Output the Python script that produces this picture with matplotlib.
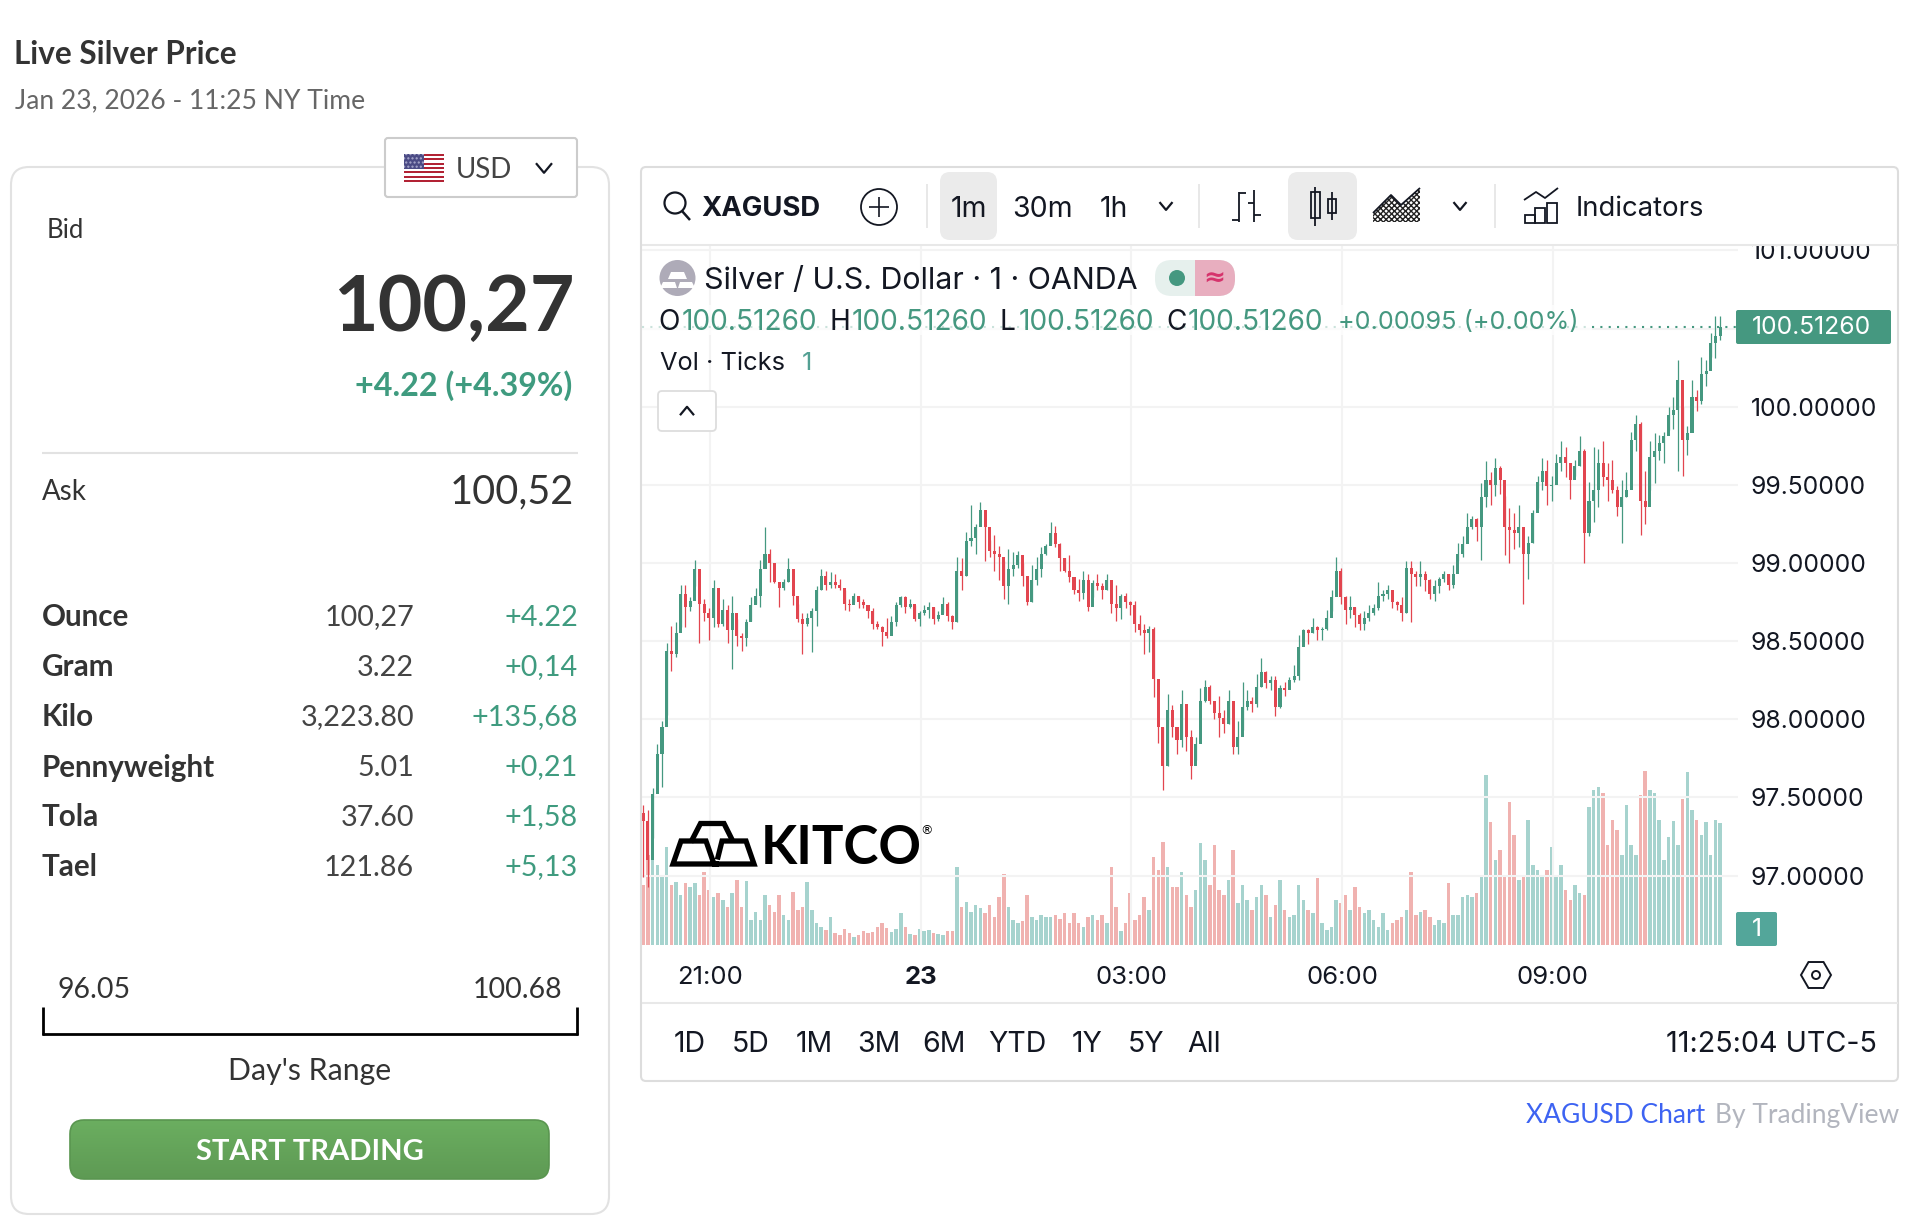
import matplotlib
matplotlib.use("Agg")
import matplotlib.pyplot as plt
from matplotlib.patches import Circle, FancyBboxPatch, Polygon, Rectangle, RegularPolygon
from matplotlib.ticker import FuncFormatter
import numpy as np

# price bars, sampled every 4 minutes off the picture
highs = [97.45, 97.42, 97.56, 97.84, 97.99, 98.49, 98.60, 98.62, 98.86, 98.86, 98.78, 99.02, 98.96, 98.77, 98.71, 98.89, 98.84, 98.77, 98.73, 98.79,
         98.64, 98.55, 98.64, 98.78, 98.84, 99.02, 99.23, 99.09, 98.97, 98.88, 98.90, 99.03, 98.89, 98.74, 98.68, 98.68, 98.71, 98.85, 98.96, 98.95,
         98.94, 98.93, 98.90, 98.83, 98.77, 98.81, 98.79,
         98.77, 98.72, 98.71, 98.63, 98.60, 98.65, 98.66, 98.75, 98.79, 98.79, 98.77, 98.73, 98.69, 98.73, 98.75, 98.72, 98.69, 98.78, 98.75, 98.67,
         99.04, 99.03, 99.20, 99.37, 99.25, 99.39, 99.34, 99.15, 99.18, 99.11, 99.01, 99.09, 99.07, 99.08, 99.00, 98.92, 98.99, 99.04, 99.10, 99.12,
         99.26, 99.24, 99.13, 99.03, 99.05, 98.90, 98.90,
         98.95, 98.93, 98.89, 98.93, 98.87, 98.93, 98.88, 98.86, 98.80, 98.81, 98.76, 98.76, 98.67, 98.61, 98.60, 98.59, 98.26, 97.95, 98.16, 98.09,
         97.93, 98.19, 97.97, 97.93, 97.89, 98.20, 98.25, 98.22, 98.12, 98.15, 98.06, 98.19, 98.11, 97.99, 98.24, 98.19, 98.14, 98.29, 98.39, 98.31,
         98.28, 98.28, 98.22, 98.24, 98.27, 98.35, 98.54,
         98.58, 98.58, 98.65, 98.60, 98.59, 98.70, 98.83, 99.04, 98.97, 98.79, 98.79, 98.72, 98.68, 98.69, 98.73, 98.74, 98.88, 98.83, 98.86, 98.83,
         98.76, 98.78, 99.01, 99.01, 98.95, 99.01, 98.95, 98.90, 98.89, 98.91, 98.95, 98.93, 98.99, 99.13, 99.17, 99.32, 99.30, 99.29, 99.51, 99.65,
         99.58, 99.67, 99.62, 99.43, 99.35, 99.32, 99.37,
         99.23, 99.17, 99.34, 99.56, 99.67, 99.66, 99.56, 99.70, 99.78, 99.74, 99.64, 99.66, 99.81, 99.73, 99.52, 99.74, 99.73, 99.78, 99.64, 99.66,
         99.49, 99.53, 99.58, 99.84, 99.95, 99.90, 99.59, 99.78, 99.83, 99.82, 99.84, 100.00, 100.06, 100.30, 100.00, 99.88, 100.17, 100.11, 100.32, 100.30,
         100.47, 100.58, 100.58]

lows = [96.99, 96.93, 97.24, 97.58, 97.57, 98.03, 98.31, 98.40, 98.59, 98.59, 98.69, 98.85, 98.49, 98.63, 98.51, 98.59, 98.59, 98.60, 98.49, 98.32,
        98.47, 98.44, 98.47, 98.63, 98.74, 98.72, 98.97, 98.88, 98.87, 98.72, 98.83, 98.88, 98.73, 98.62, 98.42, 98.60, 98.43, 98.60, 98.83, 98.83,
        98.84, 98.84, 98.83, 98.70, 98.69, 98.75, 98.71,
        98.71, 98.65, 98.58, 98.58, 98.47, 98.52, 98.59, 98.60, 98.72, 98.68, 98.71, 98.63, 98.60, 98.67, 98.65, 98.61, 98.63, 98.68, 98.63, 98.58,
        98.62, 98.83, 98.92, 99.11, 99.06, 99.25, 99.01, 99.04, 98.95, 98.89, 98.77, 98.74, 98.92, 98.97, 98.85, 98.73, 98.75, 98.86, 98.91, 99.05,
        99.12, 99.10, 98.95, 98.94, 98.88, 98.80, 98.76,
        98.77, 98.69, 98.78, 98.83, 98.77, 98.83, 98.68, 98.63, 98.64, 98.71, 98.67, 98.56, 98.54, 98.42, 98.43, 98.14, 97.85, 97.55, 97.70, 97.89,
        97.78, 97.82, 97.80, 97.62, 97.74, 97.87, 98.11, 98.10, 98.00, 97.89, 97.91, 97.97, 97.78, 97.78, 97.93, 98.06, 98.05, 98.08, 98.21, 98.20,
        98.19, 98.02, 98.07, 98.15, 98.22, 98.24, 98.25,
        98.48, 98.48, 98.55, 98.51, 98.51, 98.57, 98.69, 98.83, 98.74, 98.61, 98.65, 98.59, 98.57, 98.57, 98.63, 98.67, 98.70, 98.76, 98.77, 98.71,
        98.70, 98.63, 98.68, 98.62, 98.85, 98.85, 98.82, 98.77, 98.76, 98.81, 98.88, 98.83, 98.84, 99.01, 99.04, 99.16, 99.22, 99.14, 99.02, 99.36,
        99.37, 99.43, 99.44, 99.05, 99.00, 99.09, 99.10,
        98.74, 98.90, 99.13, 99.35, 99.47, 99.37, 99.40, 99.54, 99.59, 99.55, 99.41, 99.56, 99.62, 99.00, 99.17, 99.26, 99.36, 99.49, 99.40, 99.45,
        99.30, 99.13, 99.42, 99.49, 99.72, 99.18, 99.25, 99.47, 99.51, 99.66, 99.64, 99.85, 99.86, 99.59, 99.56, 99.69, 99.87, 99.97, 100.02, 100.13,
        100.32, 100.31, 100.43]

closes = [97.35, 97.10, 97.52, 97.78, 97.95, 98.44, 98.42, 98.55, 98.80, 98.72, 98.76, 98.96, 98.74, 98.68, 98.65, 98.84, 98.61, 98.70, 98.57, 98.68,
          98.53, 98.52, 98.62, 98.73, 98.79, 98.96, 99.06, 99.00, 98.88, 98.84, 98.88, 98.96, 98.79, 98.64, 98.61, 98.65, 98.69, 98.83, 98.92, 98.86,
          98.88, 98.86, 98.84, 98.74, 98.73, 98.79, 98.75,
          98.73, 98.69, 98.61, 98.59, 98.56, 98.53, 98.62, 98.73, 98.78, 98.72, 98.74, 98.64, 98.68, 98.70, 98.72, 98.64, 98.67, 98.74, 98.66, 98.62,
          98.95, 98.92, 99.14, 99.16, 99.23, 99.34, 99.23, 99.08, 99.06, 99.04, 98.85, 98.96, 98.99, 99.05, 98.92, 98.75, 98.89, 98.96, 99.06, 99.11,
          99.19, 99.12, 99.03, 98.95, 98.91, 98.83, 98.81,
          98.89, 98.72, 98.87, 98.85, 98.83, 98.89, 98.74, 98.71, 98.79, 98.75, 98.73, 98.61, 98.57, 98.55, 98.58, 98.26, 97.95, 97.70, 98.06, 97.95,
          97.87, 98.10, 97.89, 97.70, 97.84, 98.12, 98.21, 98.12, 98.04, 98.01, 97.97, 98.12, 97.82, 97.89, 98.08, 98.12, 98.10, 98.21, 98.30, 98.23,
          98.25, 98.08, 98.20, 98.19, 98.25, 98.28, 98.46,
          98.57, 98.55, 98.59, 98.57, 98.58, 98.65, 98.78, 98.95, 98.78, 98.70, 98.72, 98.67, 98.61, 98.65, 98.68, 98.71, 98.79, 98.80, 98.83, 98.75,
          98.73, 98.68, 98.97, 98.93, 98.91, 98.93, 98.89, 98.80, 98.85, 98.90, 98.93, 98.86, 98.93, 99.06, 99.12, 99.23, 99.28, 99.23, 99.42, 99.53,
          99.50, 99.61, 99.53, 99.23, 99.21, 99.19, 99.23,
          99.06, 99.13, 99.32, 99.52, 99.59, 99.49, 99.50, 99.64, 99.68, 99.64, 99.53, 99.62, 99.72, 99.19, 99.40, 99.47, 99.64, 99.55, 99.53, 99.47,
          99.36, 99.42, 99.47, 99.79, 99.89, 99.40, 99.36, 99.68, 99.72, 99.77, 99.81, 99.95, 99.98, 100.17, 99.79, 99.83, 100.06, 100.04, 100.21, 100.23,
          100.41, 100.45, 100.51]

first_open = 97.40

volumes = [60, 90, 92, 80, 70, 98, 60, 63, 50, 62, 58, 62, 50, 73, 55, 48, 52, 45, 38, 52,
           65, 38, 64, 25, 33, 25, 50, 40, 33, 50, 30, 25, 53, 35, 38, 63, 35, 22, 18, 15,
           28, 12, 10, 16, 12, 8, 10, 14, 12, 13, 18, 22, 17, 13, 16, 32, 18, 11, 10, 16,
           14, 15, 12, 11, 10, 14, 14, 78, 38, 43, 33, 40, 37, 32, 40, 28, 48, 71, 38, 25,
           22, 24, 50, 28, 25, 30, 28, 28, 30, 26, 32, 22, 32, 22, 18, 28, 30, 25, 30, 22,
           78, 38, 14, 22, 52, 25, 30, 48, 35, 88, 75, 103, 78, 58, 58, 73, 50, 38, 55, 102,
           85, 60, 100, 55, 50, 65, 95, 42, 60, 45, 35, 48, 60, 50, 28, 40, 65, 35, 28, 30,
           60, 45, 35, 32, 67, 22, 15, 18, 45, 42, 50, 35, 58, 38, 32, 35, 25, 18, 32, 15,
           22, 25, 28, 35, 73, 30, 33, 35, 28, 20, 25, 22, 62, 30, 30, 48, 50, 48, 52, 68,
           170, 123, 85, 95, 70, 143, 110, 65, 70, 125, 80, 75, 68, 75, 98, 70, 80, 55, 45, 60,
           52, 50, 138, 155, 158, 152, 100, 125, 115, 90, 140, 100, 90, 150, 174, 155, 152, 125, 85, 108,
           124, 100, 146, 173, 135, 125, 110, 123, 90, 125, 122]

bar_step = 4
first_minute = -57
price_ticks = [97, 97.5, 98, 98.5, 99, 99.5, 100, 100.5, 101]
hidden_tick = 100.5  # its label sits behind the last-price badge
time_ticks = [0, 180, 360, 540, 720]
time_labels = ["21:00", "23", "03:00", "06:00", "09:00"]
last_price = 100.5126

unit_names = ["Ounce", "Gram", "Kilo", "Pennyweight", "Tola", "Tael"]
unit_prices = ["100,27", "3.22", "3,223.80", "5.01", "37.60", "121.86"]
unit_changes = ["+4.22", "+0,14", "+135,68", "+0,21", "+1,58", "+5,13"]
range_names = ["1D", "5D", "1M", "3M", "6M", "YTD", "1Y", "5Y", "All"]

UP = "#459880"
DOWN = "#e2454f"
VOL_UP = "#a6d3ce"
VOL_DOWN = "#f0b2b0"
GRID = "#f3f3f3"
BORDER = "#e2e2e2"
DARK = "#333333"
BLACK = "#131722"
UI_FONT = "Lato"
CHART_FONT = "Inter"

W, H = 1906, 1216
fig = plt.figure(figsize=(W / 100, H / 100), dpi=100, facecolor="white")

# chart area in picture pixels
left, right, top, bottom = 642, 1738, 245, 945
pos = [left / W, 1 - bottom / H, (right - left) / W, (bottom - top) / H]
x_range = (-58.1, 878.3)

opens = np.array([first_open] + closes[:-1])
closes_arr = np.array(closes)
minutes = first_minute + bar_step * np.arange(len(closes))
rising = closes_arr >= opens

ax_vol = fig.add_axes(pos, zorder=1)
ax_vol.bar(minutes, volumes, width=3, color=[VOL_UP if r else VOL_DOWN for r in rising])
ax_vol.set_xlim(*x_range)
ax_vol.set_ylim(0, bottom - top)
ax_vol.axis("off")

ax = fig.add_axes(pos, zorder=2)
ax.patch.set_visible(False)
bar_colors = [UP if r else DOWN for r in rising]
ax.vlines(minutes, lows, highs, colors=bar_colors, lw=0.9, zorder=3)
ax.bar(minutes, np.abs(closes_arr - opens), bottom=np.minimum(closes_arr, opens), width=2.6, color=bar_colors, zorder=3)
ax.axhline(last_price, color=UP, lw=1.5, ls=(0, (1, 3)), zorder=3)
ax.set_xlim(*x_range)
ax.set_ylim(96.556, 101.035)
ax.set_yticks(price_ticks)
ax.set_xticks(time_ticks)
ax.set_xticklabels(time_labels)
ax.yaxis.tick_right()
ax.yaxis.set_major_formatter(FuncFormatter(lambda v, _: "" if v == hidden_tick else f"{v:.5f}"))
ax.grid(True, color=GRID, lw=1.5, zorder=0)
ax.set_axisbelow(True)
for s in ax.spines.values():
    s.set_visible(False)
ax.tick_params(axis="both", length=0, labelcolor=BLACK)
ax.tick_params(axis="x", pad=15, labelsize=18.5)
ax.tick_params(axis="y", pad=9, labelsize=17.8)
for lab in ax.get_xticklabels() + ax.get_yticklabels():
    lab.set_fontfamily(CHART_FONT)
for lab in ax.get_yticklabels():
    lab.set_ha("left")
ax.get_xticklabels()[1].set_fontweight("bold")

# everything else goes on a pixel overlay
ui = fig.add_axes([0, 0, 1, 1], zorder=5)
ui.set_xlim(0, W)
ui.set_ylim(H, 0)
ui.axis("off")


def box(x0, y0, x1, y1, fc="none", ec="none", lw=0, r=0, z=2):
    p = FancyBboxPatch((x0, y0), x1 - x0, y1 - y0, boxstyle=f"round,pad=0,rounding_size={r}",
                       fc=fc, ec=ec, lw=lw, zorder=z)
    ui.add_patch(p)
    return p


def line(xs, ys, color=BLACK, lw=1.5, z=3):
    ui.plot(xs, ys, color=color, lw=lw, solid_capstyle="butt", zorder=z)


def label(x, y, s, size=20, color=DARK, ha="left", weight="normal", family=UI_FONT, z=4):
    ui.text(x, y + 2.5, s, fontsize=size, color=color, ha=ha, va="center", fontweight=weight, family=family, zorder=z)


def chevron(x, y, size, up=False):
    d = -size * 0.6 if up else size * 0.6
    line([x - size, x, x + size], [y - d, y + d, y - d], lw=1.6)


# header and left card
label(14, 52, "Live Silver Price", 22.7, DARK, weight="bold")
label(15, 98, "Jan 23, 2026 - 11:25 NY Time", 19.1, "#666666")
box(11, 167, 609, 1214, ec=BORDER, lw=1.5, r=18)
box(385, 138, 577, 197, fc="white", ec="#cccccc", lw=1.5, r=3, z=3)
# flag
for k in range(13):
    ui.add_patch(Rectangle((404, 154 + k * 28 / 13), 40, 28 / 13, fc="#b22234" if k % 2 == 0 else "white", lw=0, zorder=4))
ui.add_patch(Rectangle((404, 154), 20, 15, fc="#4b4b85", ec="#a9a9cc", hatch="....", lw=0, zorder=4))
label(456, 168, "USD", 20, "#444444")
chevron(544, 168, 8)

label(47, 227.5, "Bid", 18.5)
label(575, 306, "100,27", 55.5, DARK, ha="right", weight="bold")
label(572, 383.5, "+4.22 (+4.39%)", 23.2, "#3f9b7f", ha="right", weight="bold")
line([42, 578], [453, 453], BORDER, 1.5)
label(42, 490, "Ask", 20)
label(574, 489, "100,52", 28.5, ha="right")

row_ys = [615, 665, 715, 765, 815, 865]
for y, name, price, change in zip(row_ys, unit_names, unit_prices, unit_changes):
    label(42, y, name, 21.3, DARK, weight="bold")
    label(414, y, price, 20.7, "#444444", ha="right")
    label(578, y, change, 20.7, "#3f9b7f", ha="right")

label(58, 987.5, "96.05", 20.5)
label(562, 987.5, "100.68", 20.5, ha="right")
line([42, 578], [1034, 1034], "black", 2)
line([43, 43], [1007, 1035], "black", 2)
line([577, 577], [1007, 1035], "black", 2)
label(310, 1068.5, "Day's Range", 21.8, ha="center")

btn = box(70, 1120, 549, 1179, ec="#5a9650", lw=1.2, r=14, z=3)
grad = ui.imshow(np.linspace(0, 1, 60).reshape(-1, 1), extent=(70, 549, 1179, 1120), aspect="auto", zorder=2.5,
                 cmap=matplotlib.colors.LinearSegmentedColormap.from_list("b", ["#6bae60", "#5e9a54"]))
grad.set_clip_path(box(70, 1120, 549, 1179, r=14))
ui.set_xlim(0, W)
ui.set_ylim(H, 0)
label(310, 1149, "START TRADING", 21, "white", ha="center", weight="bold")

# chart card: toolbar band hides whatever sticks out above the plot
ui.add_patch(Rectangle((642, 167), 1256, top - 167, fc="white", lw=0, zorder=1))
box(641, 167, 1898, 1081, ec="#dddddd", lw=1.5, r=5)
line([642, 1898], [245, 245], "#e8e8e8", 1.5)
line([642, 1898], [1003, 1003], "#e8e8e8", 1.5)

ui.add_patch(Circle((675, 203), 10.5, fc="none", ec=BLACK, lw=1.6, zorder=3))
line([682, 690], [211, 220], lw=1.8)
label(701, 206, "XAGUSD", 19.8, BLACK, weight="bold", family=CHART_FONT)
ui.add_patch(Circle((879, 207), 18, fc="none", ec=BLACK, lw=1.3, zorder=3))
line([869, 889], [207, 207], lw=1.2)
line([879, 879], [197, 217], lw=1.2)
for x in [927, 1199, 1495]:
    line([x, x], [184, 228], "#e6e6e6", 1.3)
box(940, 172, 997, 240, fc="#ebebeb", r=10)
label(969, 207, "1m", 20.5, BLACK, ha="center", family=CHART_FONT)
label(1043, 207, "30m", 20.5, BLACK, ha="center", family=CHART_FONT)
label(1114, 207, "1h", 20.5, BLACK, ha="center", family=CHART_FONT)
chevron(1166, 206, 6.5)

# bar icon
line([1239, 1239], [192, 222], lw=1.3)
line([1232, 1239], [220, 220], lw=1.3)
line([1239, 1246], [193, 193], lw=1.3)
line([1254, 1254], [190, 222], lw=1.3)
line([1248, 1254], [203, 203], lw=1.3)
line([1254, 1261], [215, 215], lw=1.3)
# candle icon
box(1288, 172, 1357, 240, fc="#ebebeb", r=10)
line([1315, 1315], [187, 226], lw=1.3)
ui.add_patch(Rectangle((1311, 192), 9, 26, fc="none", ec=BLACK, lw=1.3, zorder=3))
line([1332, 1332], [192, 220], lw=1.3)
ui.add_patch(Rectangle((1328, 199), 8.5, 14, fc="none", ec=BLACK, lw=1.3, zorder=3))
# area icon
ui.add_patch(Polygon([(1373, 222), (1373, 213), (1391, 195), (1401, 205), (1420, 188), (1420, 222)],
                     fc="white", ec="#222222", hatch="xxxxxx", lw=0, zorder=3))
line([1373, 1391, 1401, 1420], [213, 195, 205, 188], lw=1.3)
chevron(1460, 206, 6.5)
# indicators icon
line([1524, 1536, 1545, 1558], [200, 192, 198, 188], lw=1.3)
for x0, y0 in [(1525, 215), (1535, 208), (1547, 203)]:
    ui.add_patch(Rectangle((x0, y0), 10.5, 223 - y0, fc="none", ec=BLACK, lw=1.3, zorder=3))
label(1576, 207, "Indicators", 19.8, BLACK, family=CHART_FONT)

# legend
ui.add_patch(Rectangle((642, 305), 950, 30, fc="white", alpha=0.72, lw=0, zorder=1.5))
ui.add_patch(Circle((677.5, 278), 18, fc="#aeabb8", lw=0, zorder=3))
for pts in [[(671, 272), (684, 272), (687, 279), (668, 279)], [(663, 282), (675, 282), (677, 288), (660, 288)], [(680, 282), (692, 282), (695, 288), (678, 288)]]:
    ui.add_patch(Polygon(pts, fc="white", lw=0, zorder=4))
label(704, 278.5, "Silver / U.S. Dollar · 1 · OANDA", 21.9, BLACK, family=CHART_FONT)
box(1155, 260, 1235, 296, fc="#e6f0ed", r=17)
right_half = box(1155, 260, 1235, 296, fc="#e8aebf", r=17, z=2.2)
right_half.set_clip_path(Rectangle((1195, 250), 50, 60, transform=ui.transData))
ui.add_patch(Circle((1177, 278), 8, fc=UP, lw=0, zorder=3))
label(1214, 275.5, "≈", 19, "#d6336c", ha="center", weight="bold", family="DejaVu Sans")

for x, s in [(658, "O"), (830, "H"), (1000, "L"), (1166, "C")]:
    label(x, 320, s, 20.2, BLACK, family=CHART_FONT)
for x in [682, 852, 1019, 1188]:
    label(x, 320, "100.51260", 20.2, UP, family=CHART_FONT)
label(1338, 320, "+0.00095 (+0.00%)", 18.2, UP, family=CHART_FONT)
label(660, 361.5, "Vol · Ticks", 18.3, BLACK, family=CHART_FONT)
label(802, 361.5, "1", 18.3, "#53a093", family=CHART_FONT)
box(658, 391, 716, 431, fc="white", ec="#dddddd", lw=1.3, r=4)
chevron(687, 411, 7, up=True)

# price scale badges
box(1736, 310, 1891, 344, fc=UP, r=2)
label(1752, 324.5, "100.51260", 17.8, "white", family=CHART_FONT)
box(1736, 912, 1777, 946, fc="#53a69a", r=2)
label(1757, 926.5, "1", 17.8, "white", ha="center", family=CHART_FONT)

# logo
logo_ink = {"color": "black", "lw": 3.8, "solid_joinstyle": "miter", "zorder": 3}
ui.plot([692, 700.5, 724, 731], [840, 823.5, 823.5, 837.5], **logo_ink)
ui.plot([716, 673, 681, 706, 714, 754, 746, 722, 718], [864, 864, 841, 841, 864, 864, 841, 841, 857], **logo_ink)
label(761, 845.5, "KITCO", 38, "black", weight="bold", family="Lato")
label(927, 828, "®", 9, "black", ha="center", family="DejaVu Sans")

# gear
ui.add_patch(RegularPolygon((1816, 975), 6, radius=15, orientation=np.pi / 6, fc="none", ec=BLACK, lw=1.4, zorder=3))
ui.add_patch(Circle((1816, 975), 4, fc="none", ec=BLACK, lw=1.4, zorder=3))

# bottom bar
for x, s in zip([690, 751, 814, 879, 944, 1017, 1087, 1146, 1204], range_names):
    label(x, 1042, s, 20.5, BLACK, ha="center", family=CHART_FONT)
label(1877, 1042, "11:25:04 UTC-5", 20.7, BLACK, ha="right", family=CHART_FONT)
label(1526, 1113, "XAGUSD Chart", 19, "#3d63f2", family=UI_FONT)
label(1899, 1113, "By TradingView", 19, "#b2b5be", ha="right", family=UI_FONT)

fig.savefig("out.png", dpi=100)
plt.close(fig)
